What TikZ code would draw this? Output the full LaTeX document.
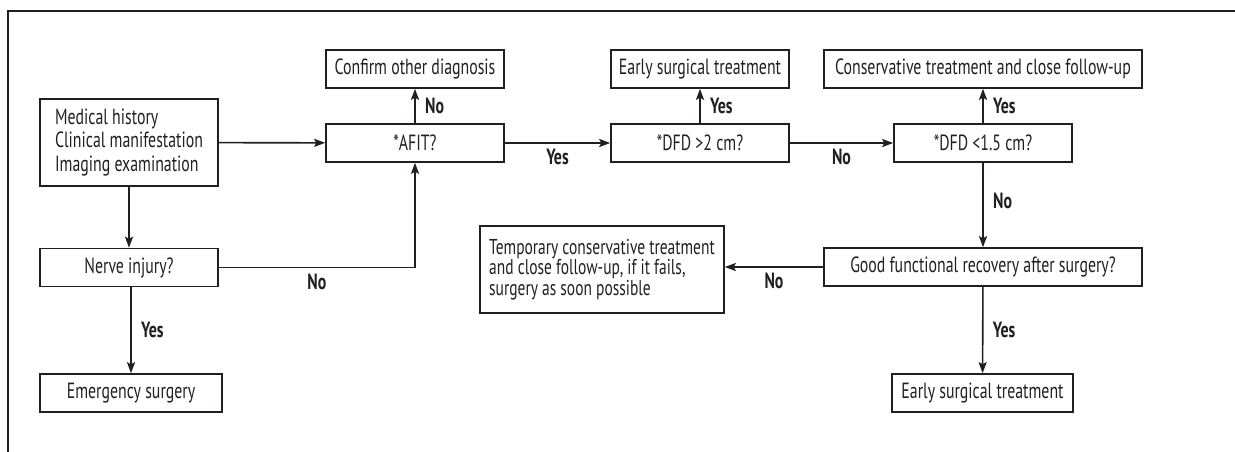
\documentclass[tikz,border=0pt]{standalone}
\usepackage{fontspec}
\setmainfont{PT Sans}[FakeStretch=0.72]
\usetikzlibrary{arrows.meta}
\definecolor{ink}{HTML}{231F20}
\begin{document}
\begin{tikzpicture}[x=1pt, y=-1pt,
    box/.style={draw=ink, line width=1.6pt, text=ink, inner sep=0pt,
      minimum width=178pt, minimum height=38pt, font=\fontsize{22}{23.5}\selectfont},
    link/.style={draw=ink, line width=1.6pt, -{Stealth[length=11pt,width=8pt,inset=2pt]}},
    lbl/.style={text=ink, font=\bfseries\fontsize{22}{23.5}\selectfont}]
  \useasboundingbox (0,0) rectangle (1235,452);
  % Frame
  \draw[ink, line width=1.2pt] (1235,11) -- (8,11) -- (8,452);
  % Left column
  \node[box, minimum height=87pt, align=left] (hist) at (129,142.5)
    {Medical history\\Clinical manifestation\\Imaging examination};
  \node[box] (nerve) at (129,267.5) {Nerve injury?};
  \node[box, minimum width=182pt] (emerg) at (131,393) {Emergency surgery};
  % Top row
  \node[box] (confirm) at (415,69) {Confirm other diagnosis};
  \node[box] (afit) at (415,143) {*AFIT?};
  \node[box] (early) at (700,69) {Early surgical treatment};
  \node[box] (dfdtwo) at (700,143) {*DFD >2 cm?};
  \node[box, minimum width=318pt] (conserv) at (983,69) {Conservative treatment and close follow-up};
  \node[box] (dfdone) at (983,143) {*DFD <1.5 cm?};
  % Lower right
  \node[box, minimum width=318pt] (good) at (983,267) {Good functional recovery after surgery?};
  \node[box, minimum width=181pt] (earlylate) at (982.5,393) {Early surgical treatment};
  \node[box, minimum width=244pt, minimum height=87pt, align=left,
    font=\fontsize{21.5}{20.5}\selectfont] (temp) at (602,269.5)
    {Temporary conservative treatment\\and close follow-up, if it fails,\\surgery as soon possible};
  % Connectors
  \draw[link] (hist) -- (afit);
  \draw[link] (hist) -- (nerve);
  \draw[link] (emerg.north |- nerve.south) -- (emerg.north)
    node[lbl, midway, right=6pt] {Yes};
  \draw[link] (nerve.east) -- (afit.south |- nerve.east)
    node[lbl, midway, below=2pt] {No} -- (afit.south);
  \draw[link] (afit) -- (confirm) node[lbl, midway, right=6pt] {No};
  \draw[link] (afit) -- (dfdtwo) node[lbl, midway, below=2pt] {Yes};
  \draw[link] (dfdtwo) -- (early) node[lbl, midway, right=6pt] {Yes};
  \draw[link] (dfdtwo) -- (dfdone) node[lbl, midway, below=2pt] {No};
  \draw[link] (dfdone) -- (conserv) node[lbl, midway, right=6pt] {Yes};
  \draw[link] (dfdone) -- (good) node[lbl, pos=0.45, right=6pt] {No};
  \draw[link] (good.west) -- (temp.east |- good.west) node[lbl, midway, below=2pt] {No};
  \draw[link] (good) -- (earlylate) node[lbl, midway, right=6pt] {Yes};
\end{tikzpicture}
\end{document}
